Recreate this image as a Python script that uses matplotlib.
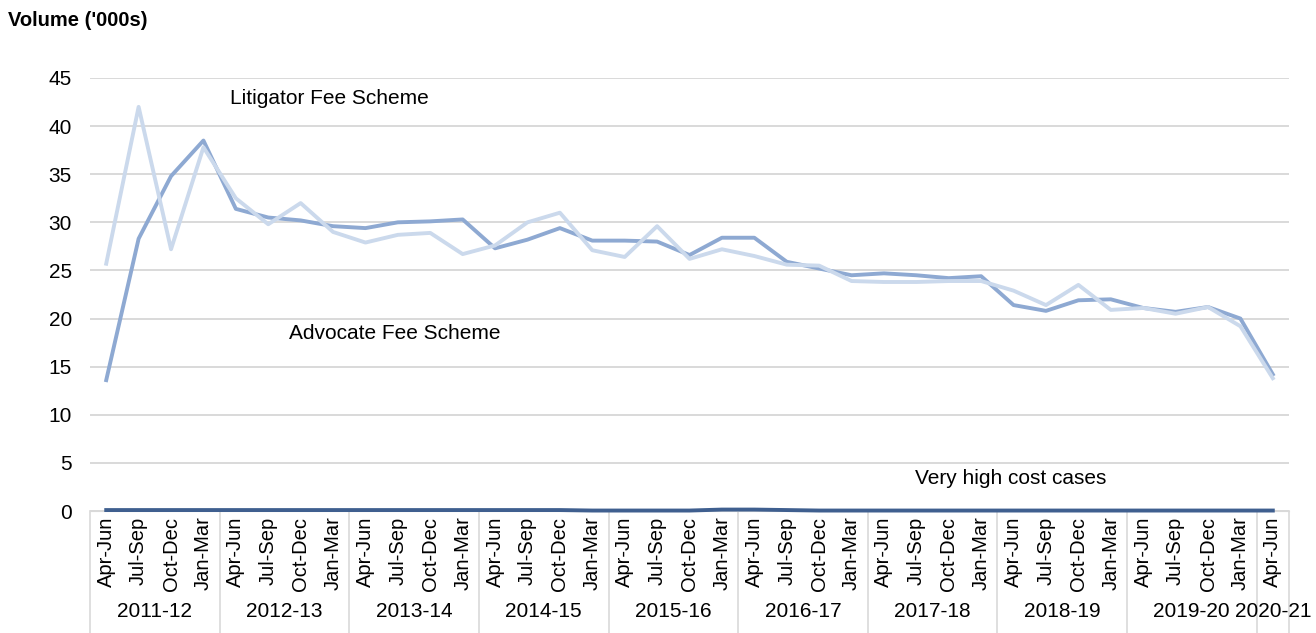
import numpy as np
import matplotlib.pyplot as plt
from matplotlib.transforms import blended_transform_factory

plt.rcParams['font.family'] = ['Liberation Sans', 'DejaVu Sans']

# quarters, Apr-Jun 2011 to Apr-Jun 2020
quarters = ["Apr-Jun", "Jul-Sep", "Oct-Dec", "Jan-Mar"] * 9 + ["Apr-Jun"]
years = ["2011-12", "2012-13", "2013-14", "2014-15", "2015-16",
         "2016-17", "2017-18", "2018-19", "2019-20", "2020-21"]
year_sizes = [4, 4, 4, 4, 4, 4, 4, 4, 4, 1]

advocate = [13.6, 28.3, 34.8, 38.5, 31.4, 30.5, 30.2, 29.6, 29.4, 30.0,
            30.1, 30.3, 27.3, 28.2, 29.4, 28.1, 28.1, 28.0, 26.6, 28.4,
            28.4, 25.9, 25.2, 24.5, 24.7, 24.5, 24.2, 24.4, 21.4, 20.8,
            21.9, 22.0, 21.1, 20.7, 21.2, 20.0, 14.2]
litigator = [25.7, 42.0, 27.2, 37.8, 32.5, 29.8, 32.0, 29.0, 27.9, 28.7,
             28.9, 26.7, 27.6, 30.0, 31.0, 27.1, 26.4, 29.6, 26.2, 27.2,
             26.5, 25.6, 25.5, 23.9, 23.8, 23.8, 23.9, 23.9, 22.9, 21.4,
             23.5, 20.9, 21.1, 20.5, 21.2, 19.2, 13.8]
vhcc = [0.1, 0.1, 0.1, 0.1, 0.1, 0.1, 0.1, 0.1, 0.1, 0.1,
        0.1, 0.1, 0.1, 0.1, 0.1, 0.05, 0.05, 0.05, 0.05, 0.15,
        0.15, 0.1, 0.05, 0.05, 0.05, 0.05, 0.05, 0.05, 0.05, 0.05,
        0.05, 0.05, 0.05, 0.05, 0.05, 0.05, 0.05]

x = np.arange(len(quarters))

fig = plt.figure(figsize=(13.16, 6.33), dpi=100)
ax = fig.add_axes([0.0684, 0.1927, 0.9111, 0.6841])

ax.plot(x, advocate, color="#8EA9D2", lw=2.8, zorder=3)
ax.plot(x, litigator, color="#CBD9EC", lw=2.8, zorder=4)
ax.plot(x, vhcc, color="#3F5F8F", lw=2.8, zorder=5, clip_on=False)

ax.set_ylim(0, 45)
ax.set_xlim(-0.5, len(quarters) - 0.5)
ax.set_yticks(np.arange(0, 46, 5))
ax.yaxis.grid(True, color="#D9D9D9", lw=1.4)
ax.set_axisbelow(True)
for s in ["top", "right", "left"]:
    ax.spines[s].set_visible(False)
ax.spines["bottom"].set_color("#D9D9D9")
ax.tick_params(axis="y", length=0, labelsize=15, pad=13)

ax.set_xticks(x)
ax.set_xticklabels(quarters, rotation=90, fontsize=14.5)
ax.tick_params(axis="x", length=0, pad=4)

# year groups with separators
trans = blended_transform_factory(ax.transData, ax.transAxes)
edges = np.concatenate([[0], np.cumsum(year_sizes)]) - 0.5
for e in edges:
    ax.plot([e, e], [0, -0.285], color="#D9D9D9", lw=1.2,
            transform=trans, clip_on=False)
for i, yr in enumerate(years):
    mid = (edges[i] + edges[i + 1]) / 2
    ax.text(mid, -0.232, yr, transform=trans, ha="center", va="center",
            fontsize=15)

ax.text(6.9, 42.9, "Litigator Fee Scheme", ha="center", va="center", fontsize=15)
ax.text(8.9, 18.4, "Advocate Fee Scheme", ha="center", va="center", fontsize=15)
ax.text(27.9, 3.4, "Very high cost cases", ha="center", va="center", fontsize=15)

fig.text(0.006, 0.968, "Volume ('000s)", fontsize=14.5, fontweight="bold",
         ha="left", va="center")

fig.savefig("out.png", dpi=100)
